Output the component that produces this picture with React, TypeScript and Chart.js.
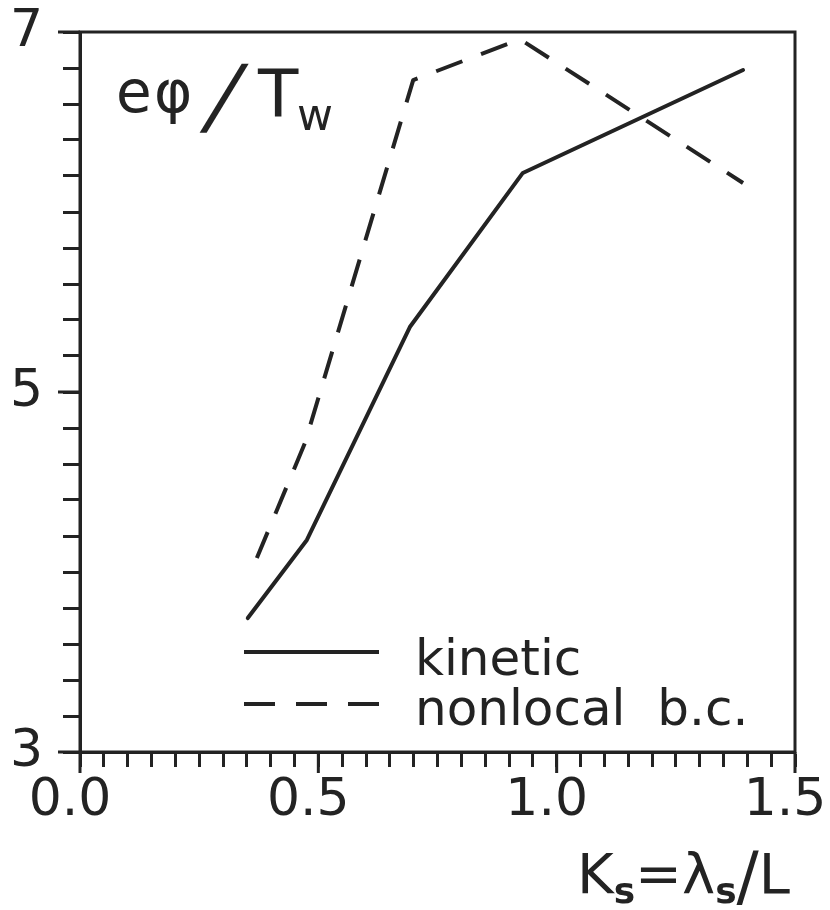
import React, { useEffect, useRef } from "react";
import { Chart, registerables } from "chart.js";

Chart.register(...registerables);

const kineticX = [0.352, 0.476, 0.692, 0.929, 1.391];
const kineticY = [3.744, 4.178, 5.361, 6.217, 6.789];
const nonlocalX = [0.371, 0.472, 0.699, 0.923, 1.391];
const nonlocalY = [4.078, 4.717, 6.733, 6.96, 6.161];
const xMajorTicks = [0, 0.5, 1.0, 1.5];
const xTickLabels = ["0.0", "0.5", "1.0", "1.5"];
const yMajorTicks = [3, 5, 7];
const yTickLabels = ["3", "5", "7"];
const seriesNames = ["kinetic", "nonlocal  b.c."];

const INK = "#232323";
const FONT = "DejaVu Sans";

function labelFor(value: number, majors: number[], labels: string[]) {
  const i = majors.findIndex((m) => Math.abs(m - value) < 1e-6);
  return i >= 0 ? labels[i] : "";
}

const decor = {
  id: "decor",
  afterDraw(chart: any) {
    const { ctx, chartArea, scales } = chart;
    const { left, top, right, bottom } = chartArea;
    const x = scales.x;
    const y = scales.y;
    ctx.save();
    ctx.strokeStyle = INK;
    ctx.fillStyle = INK;
    ctx.lineWidth = 3;
    ctx.strokeRect(left, top, right - left, bottom - top);
    ctx.beginPath();
    yMajorTicks.forEach((v) => {
      const py = y.getPixelForValue(v);
      ctx.moveTo(left - 22, py);
      ctx.lineTo(left, py);
    });
    xMajorTicks.forEach((v) => {
      const px = x.getPixelForValue(v);
      ctx.moveTo(px, bottom);
      ctx.lineTo(px, bottom + 21);
    });
    ctx.stroke();

    // legend
    const lx0 = left + 164;
    const lx1 = left + 299;
    const row1 = bottom - 100;
    const row2 = bottom - 48;
    ctx.lineWidth = 4;
    ctx.lineCap = "butt";
    ctx.beginPath();
    ctx.moveTo(lx0, row1);
    ctx.lineTo(lx1, row1);
    ctx.stroke();
    ctx.setLineDash([31, 21]);
    ctx.beginPath();
    ctx.moveTo(lx0, row2);
    ctx.lineTo(lx1, row2);
    ctx.stroke();
    ctx.setLineDash([]);
    ctx.font = `50px "${FONT}"`;
    ctx.textBaseline = "alphabetic";
    ctx.textAlign = "left";
    ctx.fillText(seriesNames[0], left + 335, row1 + 23);
    ctx.fillText(seriesNames[1], left + 335, row2 + 21);

    // y title  e φ / T_w
    const tx = left;
    const ty = top;
    ctx.font = `58px "${FONT}"`;
    ctx.fillText("e", tx + 36, ty + 80);
    ctx.fillText("φ", tx + 74, ty + 80);
    ctx.save();
    ctx.translate(tx + 122, ty + 93);
    ctx.transform(1, 0, -0.3, 1, 0, 0);
    ctx.font = `84px "${FONT}"`;
    ctx.fillText("/", 0, 0);
    ctx.restore();
    ctx.font = `66px "${FONT}"`;
    ctx.fillText("T", tx + 178, ty + 85);
    ctx.font = `44px "${FONT}"`;
    ctx.fillText("w", tx + 217, ty + 98);

    // x title  K_s = λ_s / L
    const pieces: [string, string, number][] = [
      ["K", `56px "${FONT}"`, 0],
      ["s", `bold 36px "${FONT}"`, 10],
      ["=", `56px "${FONT}"`, 0],
      ["λ", `56px "${FONT}"`, 0],
      ["s", `bold 36px "${FONT}"`, 10],
      ["/", `66px "${FONT}"`, 6],
      ["L", `56px "${FONT}"`, 0],
    ];
    let total = 0;
    const widths = pieces.map(([t, f]) => {
      ctx.font = f;
      const w = ctx.measureText(t).width;
      total += w;
      return w;
    });
    let cx = right - 5 - total;
    const base = bottom + 141;
    pieces.forEach(([t, f, dy], i) => {
      ctx.font = f;
      ctx.fillText(t, cx, base + dy);
      cx += widths[i];
    });
    ctx.restore();
  },
};

export default function App() {
  const ref = useRef<HTMLCanvasElement | null>(null);
  useEffect(() => {
    if (!ref.current) return;
    const chart = new Chart(ref.current, {
      type: "line",
      data: {
        datasets: [
          {
            label: seriesNames[0],
            data: kineticX.map((v, i) => ({ x: v, y: kineticY[i] })),
            borderColor: INK,
            borderWidth: 4,
            pointRadius: 0,
            fill: false,
            tension: 0,
            borderJoinStyle: "round",
            borderCapStyle: "round",
          },
          {
            label: seriesNames[1],
            data: nonlocalX.map((v, i) => ({ x: v, y: nonlocalY[i] })),
            borderColor: INK,
            borderWidth: 4,
            borderDash: [28, 20],
            pointRadius: 0,
            fill: false,
            tension: 0,
            borderJoinStyle: "round",
            borderCapStyle: "butt",
          },
        ],
      },
      options: {
        animation: false,
        responsive: false,
        maintainAspectRatio: false,
        layout: { padding: { left: 0, right: 35, top: 32, bottom: 0 } },
        plugins: {
          legend: { display: false },
          tooltip: { enabled: false },
          title: { display: false },
        },
        scales: {
          x: {
            type: "linear",
            min: 0,
            max: 1.5,
            afterFit(scale: any) {
              scale.height = 158;
              scale.paddingLeft = 0;
              scale.paddingRight = 0;
            },
            border: { display: true, color: INK, width: 3 },
            grid: {
              drawOnChartArea: false,
              drawTicks: true,
              tickLength: 15,
              tickWidth: 3,
              tickColor: INK,
            },
            ticks: {
              stepSize: 0.05,
              maxTicksLimit: 1000,
              autoSkip: false,
              maxRotation: 0,
              minRotation: 0,
              padding: 3,
              labelOffset: -10,
              color: INK,
              font: { family: FONT, size: 52 },
              callback: (v: any) => labelFor(Number(v), xMajorTicks, xTickLabels),
            },
          },
          y: {
            type: "linear",
            min: 3,
            max: 7,
            afterFit(scale: any) {
              scale.width = 80;
              scale.paddingTop = 0;
              scale.paddingBottom = 0;
            },
            border: { display: true, color: INK, width: 3 },
            grid: {
              drawOnChartArea: false,
              drawTicks: true,
              tickLength: 17,
              tickWidth: 3,
              tickColor: INK,
            },
            ticks: {
              stepSize: 0.2,
              maxTicksLimit: 1000,
              autoSkip: false,
              padding: 20,
              color: INK,
              font: { family: FONT, size: 52 },
              callback: (v: any) => labelFor(Number(v), yMajorTicks, yTickLabels),
            },
          },
        },
      },
      plugins: [decor],
    });
    return () => chart.destroy();
  }, []);
  return (
    <div style={{ position: "absolute", left: 0, top: 0, width: 830, height: 910, background: "#fff" }}>
      <canvas ref={ref} width={830} height={910} style={{ display: "block" }} />
    </div>
  );
}
